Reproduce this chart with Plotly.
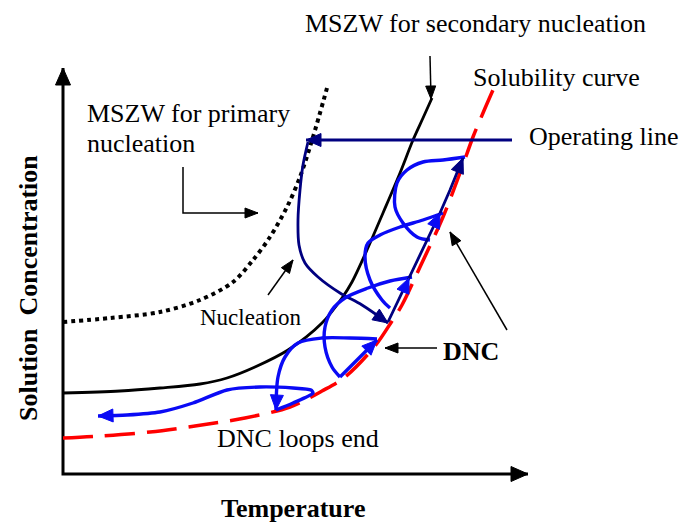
import numpy as np
import plotly.graph_objects as go

# ---- curves of the schematic (x = temperature-ish, y = concentration, in drawing units) ----
primary_x = [63, 110, 160, 200, 233, 253, 270, 287, 300, 313, 327]
primary_y = [322, 318, 312, 300, 282, 260, 237, 207, 177, 137, 88]

secondary_x = [63, 120, 160, 200, 227, 255, 288, 322, 342, 352, 367, 383, 400, 413, 423, 432]
secondary_y = [393, 391, 388, 384, 378, 367, 350, 323, 298, 282, 250, 213, 173, 140, 118, 98]

solubility_x = [63, 100, 150, 195, 245, 290, 322, 345, 375, 392, 402, 420, 443, 460, 473, 483, 493]
solubility_y = [438, 436, 432, 426, 418, 407, 391, 377, 346, 321, 305, 267, 217, 173, 137, 113, 90]

operating_x = [512, 306]
operating_y = [140, 140]

nucleation_x = [308, 303, 300, 298, 299, 305, 318, 340, 362, 388]
nucleation_y = [142, 165, 190, 220, 245, 263, 277, 293, 305, 323]

heating_x = [388, 409, 425, 440, 450, 463]
heating_y = [322, 278, 245, 213, 190, 158]

loop_top_x = [430, 417, 403, 395, 397, 407, 423, 443, 465]
loop_top_y = [240, 237, 223, 207, 183, 170, 162, 160, 157]

loop_mid_x = [390, 382, 370, 365, 368, 380, 400, 423, 443]
loop_mid_y = [308, 300, 280, 257, 243, 235, 227, 220, 213]

loop_low_x = [340, 332, 325, 325, 332, 345, 368, 390, 412]
loop_low_y = [377, 367, 347, 327, 310, 298, 288, 281, 277]

rise_x = [340, 377]
rise_y = [377, 340]

cool_x = [377, 350, 322, 298, 285, 278, 276]
cool_y = [339, 338, 338, 343, 357, 377, 410]

end_x = [276, 293, 313, 311, 293, 260, 227, 193, 160, 127, 98]
end_y = [410, 403, 393, 390, 388, 387, 390, 403, 412, 415, 416]

axis_x = [63, 63, 528]
axis_y = [68, 474, 474]

NAVY = "#000080"
BLUE = "#0A0AF5"
RED = "#FF0000"
FONT = "Liberation Serif, Times New Roman, serif"

fig = go.Figure()


def line(xs, ys, color, width, dash="solid", shape="spline", smooth=0.9):
    fig.add_trace(go.Scatter(x=xs, y=ys, mode="lines",
                             line=dict(color=color, width=width, dash=dash,
                                       shape=shape, smoothing=smooth if shape == "spline" else None),
                             hoverinfo="skip"))


def head(xs, ys, color, L=15, W=6.5, back=1):
    tx, ty = xs[-1], ys[-1]
    fx, fy = xs[-1 - back], ys[-1 - back]
    u = np.array([tx - fx, ty - fy], float)
    u /= np.hypot(*u)
    p = np.array([-u[1], u[0]])
    b = np.array([tx, ty]) - u * L
    pts = [np.array([tx, ty]), b + p * W, b - p * W, np.array([tx, ty])]
    fig.add_trace(go.Scatter(x=[q[0] for q in pts], y=[q[1] for q in pts], mode="lines",
                             fill="toself", fillcolor=color, line=dict(color=color, width=1),
                             hoverinfo="skip"))


# axes
line(axis_x, axis_y, "black", 3, shape="linear")
head([63, 63], [100, 68], "black", L=17, W=7.5)
head([400, 528], [474, 474], "black", L=17, W=7.5)

# curves
line(primary_x, primary_y, "black", 4, dash="4px,4px")
line(secondary_x, secondary_y, "black", 2.8)
line(solubility_x, solubility_y, RED, 3.5, dash="30px,12px")

# operating line and nucleation
line(operating_x, operating_y, NAVY, 2.8, shape="linear")
head(operating_x, operating_y, NAVY)
line(nucleation_x, nucleation_y, NAVY, 2.8)
head(nucleation_x, nucleation_y, NAVY)

# DNC loops
line(loop_top_x, loop_top_y, BLUE, 3.4)
line(loop_mid_x, loop_mid_y, BLUE, 3.4)
line(loop_low_x, loop_low_y, BLUE, 3.4)
line(rise_x, rise_y, BLUE, 3.4, shape="linear")
line(cool_x, cool_y, BLUE, 3.4)
line(end_x, end_y, BLUE, 3.4, smooth=0.7)
line(heating_x, heating_y, NAVY, 2.8, shape="linear")

head(heating_x, heating_y, NAVY)
head([425, 440], [245, 213], BLUE)
head([395, 409], [310, 278], BLUE)
head(rise_x, rise_y, BLUE)
head(cool_x, cool_y, BLUE)
head(end_x, end_y, BLUE)

# thin annotation arrows
line([430, 431], [56, 98], "black", 1.5, shape="linear")
head([430, 431], [56, 99], "black", L=13, W=5)
line([183, 183, 258], [167, 213, 213], "black", 1.5, shape="linear")
head([183, 258], [213, 213], "black", L=13, W=5)
line([268, 293], [295, 260], "black", 1.5, shape="linear")
head([268, 293], [295, 260], "black", L=13, W=5)
line([437, 385], [348, 348], "black", 1.5, shape="linear")
head([437, 385], [348, 348], "black", L=13, W=5)
line([507, 450], [330, 232], "black", 1.5, shape="linear")
head([507, 450], [330, 232], "black", L=13, W=5)

ann = []


def text(t, x, y, size=26, xanchor="left", bold=False, angle=0):
    ann.append(dict(text=f"<b>{t}</b>" if bold else t, x=x, y=y, xref="x", yref="y",
                    showarrow=False, xanchor=xanchor, yanchor="middle", textangle=angle,
                    font=dict(family=FONT, size=size, color="black")))


text("MSZW for secondary nucleation", 475, 23, xanchor="center")
text("Solubility curve", 471, 77)
text("Operating line", 527, 136)
text("MSZW for primary", 85, 113)
text("nucleation", 85, 143)
text("Nucleation", 250, 317, size=23, xanchor="center")
text("DNC", 471, 351, xanchor="center", bold=True)
text("DNC loops end", 298, 438, xanchor="center")
text("Temperature", 293, 508, xanchor="center", bold=True)
text("Solution  Concentration", 28, 288, xanchor="center", bold=True, angle=-90)

fig.update_layout(
    width=682, height=523, margin=dict(l=0, r=0, t=0, b=0),
    plot_bgcolor="white", paper_bgcolor="white", showlegend=False,
    xaxis=dict(range=[0, 682], visible=False, fixedrange=True),
    yaxis=dict(range=[523, 0], visible=False, fixedrange=True),
    annotations=ann,
)
fig.write_html("out.html", config={"displayModeBar": False},
               post_script="document.body.style.margin='0';document.body.style.overflow='hidden';")
